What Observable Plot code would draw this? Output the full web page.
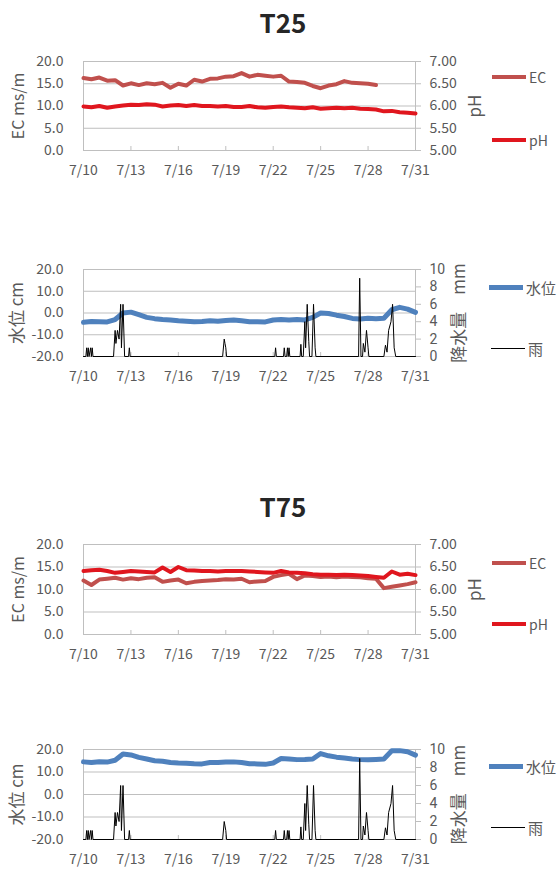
<!DOCTYPE html>
<html><head><meta charset="utf-8">
<script src="https://cdn.jsdelivr.net/npm/d3@7"></script>
<script src="https://cdn.jsdelivr.net/npm/@observablehq/plot@0.6"></script>
<style>
body{margin:0;background:#fff;}
#root{position:relative;width:560px;height:870px;overflow:hidden;font-family:"Noto Sans CJK JP","Noto Sans",sans-serif;color:#595959;}
.panel{position:absolute;left:0;}
.title{position:absolute;left:0;width:566px;text-align:center;font-weight:bold;font-size:26px;line-height:30px;color:#262626;}
.leg{position:absolute;display:flex;align-items:center;height:20px;font-size:14px;color:#595959;}
.leg .sw{display:inline-block;width:34px;margin-right:3px;}
</style>
</head><body><div id="root"></div>
<script>
// ---- data (step = 0.5 day from 7/10 00:00) ----
const STEP = 0.5;
const xTicks = [0, 3, 6, 9, 12, 15, 18, 21];
const xTickLabels = ["7/10","7/13","7/16","7/19","7/22","7/25","7/28","7/31"];
const ecTicks = [0, 5, 10, 15, 20];
const phTickLabels = ["5.00","5.50","6.00","6.50","7.00"];
const levelTicks = [-20, -10, 0, 10, 20];
const rainTicks = [0, 2, 4, 6, 8, 10];

const ecT25 = [16.3,16.0,16.4,15.7,15.8,14.6,15.1,14.7,15.1,14.9,15.2,14.1,15.0,14.6,15.9,15.5,16.1,16.2,16.6,16.7,17.4,16.6,17.0,16.8,16.6,16.8,15.5,15.4,15.2,14.5,14.0,14.6,14.9,15.6,15.2,15.1,15.0,14.7];
const phT25 = [5.99,5.97,6.00,5.96,5.99,6.01,6.03,6.02,6.04,6.03,5.99,6.01,6.02,6.00,6.02,6.00,6.00,5.99,6.00,5.98,5.98,6.00,5.97,5.96,5.98,5.99,5.97,5.96,5.95,5.97,5.94,5.95,5.96,5.95,5.96,5.94,5.93,5.92,5.88,5.89,5.86,5.85,5.83];
const levelT25 = [-4.3,-3.9,-4.0,-4.1,-3.0,0.0,0.4,-0.8,-2.0,-2.6,-3.0,-3.2,-3.6,-3.8,-4.0,-3.9,-3.6,-3.8,-3.4,-3.2,-3.6,-4.0,-4.0,-4.1,-3.2,-3.0,-3.2,-3.0,-3.2,-2.0,0.0,-0.2,-1.0,-1.6,-2.5,-2.8,-2.4,-2.6,-2.4,1.5,2.6,1.8,0.3];

const ecT75 = [12.0,11.0,12.2,12.4,12.6,12.2,12.5,12.3,12.6,12.7,11.7,12.0,12.2,11.4,11.7,11.9,12.0,12.1,12.3,12.2,12.4,11.6,11.8,11.9,12.8,13.2,13.5,12.3,13.1,13.0,12.8,12.9,12.7,12.9,12.8,12.7,12.5,12.4,10.3,10.6,10.9,11.2,11.6];
const phT75 = [6.41,6.43,6.44,6.41,6.37,6.39,6.41,6.40,6.39,6.38,6.49,6.39,6.50,6.43,6.42,6.41,6.41,6.40,6.41,6.41,6.41,6.40,6.39,6.38,6.37,6.41,6.38,6.37,6.36,6.34,6.33,6.33,6.32,6.33,6.32,6.31,6.30,6.28,6.26,6.40,6.33,6.35,6.32];
const levelT75 = [14.5,14.2,14.6,14.4,15.2,18.0,17.6,16.5,15.8,15.0,14.8,14.2,14.0,13.9,13.7,13.6,14.2,14.2,14.4,14.5,14.2,13.7,13.6,13.4,14.0,16.0,15.8,15.5,15.6,15.8,18.2,17.2,16.6,16.2,15.8,15.5,15.4,15.6,15.8,19.4,19.5,19.0,17.5];

// rainfall (day offset, mm)
const rainDay = [0,0.15,0.2,0.25,0.3,0.35,0.45,0.5,0.55,0.6,
  1.9,2.0,2.05,2.15,2.25,2.35,2.4,2.5,2.6,2.85,2.9,2.95,
  8.8,8.9,8.95,9.0,9.05,
  12.1,12.15,12.2,12.65,12.7,12.75,12.85,12.9,12.95,13.0,13.05,
  13.7,13.75,13.8,13.9,14.0,14.05,14.15,14.25,14.3,14.45,14.55,14.65,14.7,
  17.4,17.47,17.55,17.65,17.7,17.8,17.9,18.0,18.05,
  19.0,19.1,19.2,19.3,19.45,19.55,19.65,19.75,21];
const rainMm = [0,0,1,0,1,0,1,0,1,0,
  0,3,1.5,3,2,6,1,6,0,0,1,0,
  0,2,1.5,1,0,
  0,1,0,0,1,0,0,1,0,1,0,
  0,1.4,0,0,4,1,6,1.7,0,0,6,1,0,
  0,9,0,0,1.5,0.5,3,1,0,
  0,1.3,0.5,3,4,6,1,0,0];

// ---- drawing ----
const FONT = '"Noto Sans CJK JP","Noto Sans",sans-serif';
const GRID = "#bfbfbf";
const xLab = d => xTickLabels[xTicks.indexOf(d)];

function baseMarks(yTicks, yMin) {
  return [
    Plot.gridY(yTicks, {stroke: GRID, strokeOpacity: 1}),
    Plot.frame({stroke: GRID}),
    Plot.ruleX(xTicks, {x: d => d, y1: yMin, y2: yMin, insetTop: -4, stroke: GRID}),
    Plot.axisX(xTicks, {tickSize: 0, tickPadding: 15, tickFormat: xLab, label: null, fontSize: 14})
  ];
}

function ecPhPlot(ec, ph, h, mt, mb) {
  const ecData = ec.map((v, i) => ({d: i * STEP, v}));
  const phData = ph.map((v, i) => ({d: i * STEP, v: (v - 5) * 10}));
  return Plot.plot({
    width: 560, height: h, marginTop: mt, marginBottom: mb, marginLeft: 83, marginRight: 145,
    style: {fontFamily: FONT, fontSize: "14px", color: "#595959", background: "transparent", overflow: "visible"},
    x: {domain: [0, 21]},
    y: {domain: [0, 20]},
    marks: [
      ...baseMarks(ecTicks, 0),
      Plot.axisY(ecTicks, {anchor: "left", tickSize: 0, tickPadding: 20, tickFormat: d => d.toFixed(1), label: null, fontSize: 14}),
      Plot.axisY(ecTicks, {anchor: "right", tickSize: 5, tickPadding: 9, stroke: GRID, tickFormat: d => phTickLabels[ecTicks.indexOf(d)], label: null, fontSize: 14}),
      Plot.axisY([], {anchor: "left", label: "EC ms/m", labelAnchor: "center", labelOffset: 71, labelArrow: "none", fontSize: 16}),
      Plot.axisY([], {anchor: "right", label: "pH", labelAnchor: "center", labelOffset: 65, labelArrow: "none", fontSize: 17}),
      Plot.lineY(ecData, {x: "d", y: "v", stroke: "#C0504D", strokeWidth: 4}),
      Plot.lineY(phData, {x: "d", y: "v", stroke: "#E0161E", strokeWidth: 4})
    ]
  });
}

function levelPlot(level, h, mt, mb) {
  const lv = level.map((v, i) => ({d: i * STEP, v}));
  const rn = rainDay.map((d, i) => ({d, v: -20 + rainMm[i] * 4}));
  const rainPos = rainTicks.map(m => -20 + m * 4);
  return Plot.plot({
    width: 560, height: h, marginTop: mt, marginBottom: mb, marginLeft: 83, marginRight: 145,
    style: {fontFamily: FONT, fontSize: "14px", color: "#595959", background: "transparent", overflow: "visible"},
    x: {domain: [0, 21]},
    y: {domain: [-20, 20]},
    marks: [
      ...baseMarks(levelTicks, -20),
      Plot.axisY(levelTicks, {anchor: "left", tickSize: 0, tickPadding: 20, tickFormat: d => d.toFixed(1), label: null, fontSize: 14}),
      Plot.axisY(rainPos, {anchor: "right", tickSize: 5, tickPadding: 9, stroke: GRID, tickFormat: d => String(rainTicks[rainPos.indexOf(d)]), label: null, fontSize: 14, fontFamily: "Roboto"}),
      Plot.axisY([], {anchor: "left", label: "水位 cm", labelAnchor: "center", labelOffset: 73, labelArrow: "none", fontSize: 17}),
      Plot.axisY([], {anchor: "right", label: "降水量　mm", labelAnchor: "center", labelOffset: 49, labelArrow: "none", fontSize: 17}),
      Plot.lineY(lv, {x: "d", y: "v", stroke: "#4F81BD", strokeWidth: 5}),
      Plot.lineY(rn, {x: "d", y: "v", stroke: "#000", strokeWidth: 1})
    ]
  });
}

const root = document.getElementById("root");
function addPanel(node, top) {
  const div = document.createElement("div");
  div.className = "panel"; div.style.top = top + "px";
  div.appendChild(node); root.appendChild(div);
}
function addTitle(text, top) {
  const div = document.createElement("div");
  div.className = "title"; div.style.top = top + "px"; div.textContent = text;
  root.appendChild(div);
}
function addLegend(label, color, thick, left, y, fs) {
  const div = document.createElement("div");
  div.className = "leg"; div.style.left = left + "px"; div.style.top = (y - 10) + "px";
  if (fs) div.style.fontSize = fs + "px";
  const sw = document.createElement("span");
  sw.className = "sw"; sw.style.height = thick + "px"; sw.style.background = color;
  const tx = document.createElement("span"); tx.textContent = label;
  div.appendChild(sw); div.appendChild(tx); root.appendChild(div);
}

addTitle("T25", 7);
addPanel(ecPhPlot(ecT25, phT25, 150, 21, 40), 40);
addLegend("EC", "#C0504D", 4, 492, 77);
addLegend("pH", "#E0161E", 4, 492, 140);

addPanel(levelPlot(levelT25, 140, 19, 34), 250);
addLegend("水位", "#4F81BD", 5, 489, 287, 15);
addLegend("雨", "#000", 1, 491, 348, 15);

addTitle("T75", 491);
addPanel(ecPhPlot(ecT75, phT75, 145, 19, 36), 525);
addLegend("EC", "#C0504D", 4, 492, 563);
addLegend("pH", "#E0161E", 4, 492, 624);

addPanel(levelPlot(levelT75, 140, 19, 31), 730);
addLegend("水位", "#4F81BD", 5, 489, 766, 15);
addLegend("雨", "#000", 1, 491, 827, 15);
</script>
</body></html>
